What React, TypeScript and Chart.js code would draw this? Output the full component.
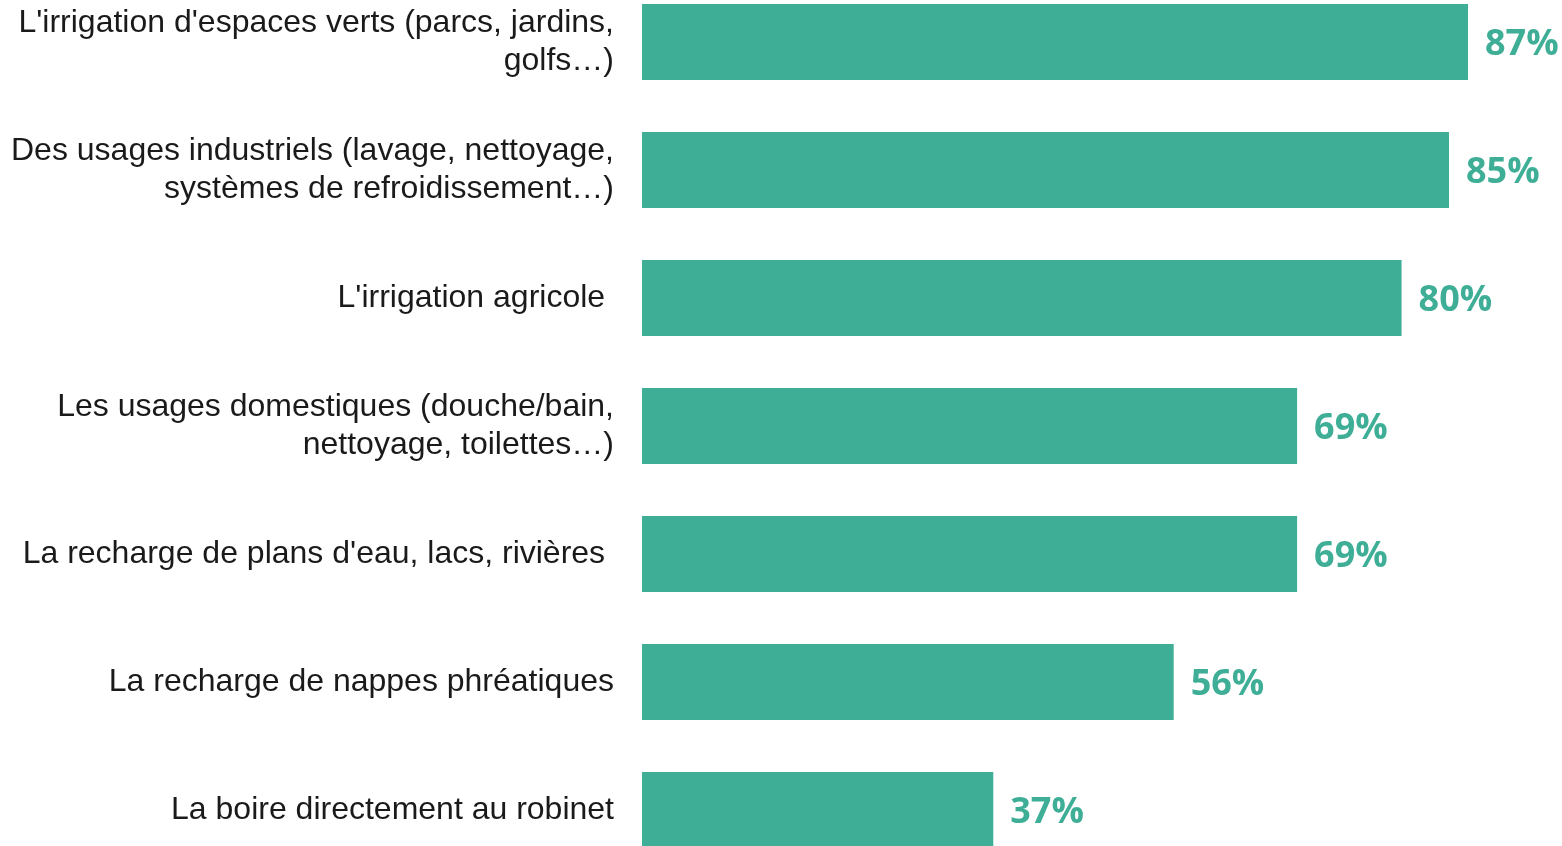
import React, { useEffect, useRef } from "react";
import { Chart, registerables } from "chart.js";

Chart.register(...registerables);

const categories: (string | string[])[] = [
  ["L'irrigation d'espaces verts (parcs, jardins,", "golfs…)"],
  ["Des usages industriels (lavage, nettoyage,", "systèmes de refroidissement…)"],
  "L'irrigation agricole ",
  ["Les usages domestiques (douche/bain,", "nettoyage, toilettes…)"],
  "La recharge de plans d'eau, lacs, rivières ",
  "La recharge de nappes phréatiques",
  "La boire directement au robinet",
];
const values = [87, 85, 80, 69, 69, 56, 37];
const barColor = "#3eae96";

const valueLabelPlugin = {
  id: "valueLabels",
  afterDatasetsDraw(chart: any) {
    const ctx = chart.ctx;
    const meta = chart.getDatasetMeta(0);
    ctx.save();
    ctx.font = "bold 36px 'Open Sans'";
    ctx.fillStyle = barColor;
    ctx.textAlign = "left";
    ctx.textBaseline = "middle";
    meta.data.forEach((bar: any, i: number) => {
      ctx.fillText(values[i] + "%", bar.x + 17, bar.y + 3);
    });
    ctx.restore();
  },
};

export default function App() {
  const ref = useRef<HTMLCanvasElement>(null);
  useEffect(() => {
    if (!ref.current) return;
    const chart = new Chart(ref.current, {
      type: "bar",
      data: {
        labels: categories,
        datasets: [
          {
            data: values,
            backgroundColor: barColor,
            barPercentage: 0.594,
            categoryPercentage: 1,
          },
        ],
      },
      options: {
        indexAxis: "y",
        animation: false,
        responsive: true,
        maintainAspectRatio: false,
        layout: { padding: 0 },
        plugins: { legend: { display: false }, tooltip: { enabled: false } },
        scales: {
          x: {
            display: false,
            min: 0,
            max: 96.9,
          },
          y: {
            grid: { display: false, drawTicks: false },
            border: { display: false },
            afterFit: (scale: any) => {
              scale.width = 642;
              scale.paddingTop = 0;
              scale.paddingBottom = 0;
            },
            ticks: {
              padding: 28,
              color: "#1a1a1a",
              font: { family: "'Liberation Sans', Arial", size: 32, lineHeight: 1.19 },
            },
          },
        },
      },
      plugins: [valueLabelPlugin],
    });
    return () => chart.destroy();
  }, []);
  return (
    <div style={{ position: "fixed", left: 0, top: -22, width: 1562, height: 896 }}>
      <canvas ref={ref} />
    </div>
  );
}
